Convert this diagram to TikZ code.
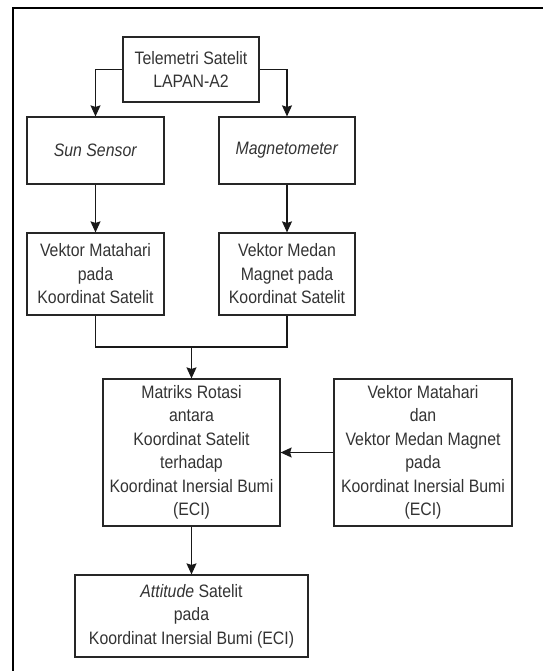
\documentclass[tikz,border=0pt]{standalone}
\usepackage{fontspec}
\setmainfont{Liberation Sans}[FakeStretch=0.88]
\usetikzlibrary{arrows.meta}
\begin{document}
\begin{tikzpicture}[x=1pt, y=-1pt,
    stage/.style ={rectangle, draw=black!85, line width=1.2pt, align=center,
      text=black!80, inner sep=2pt, font=\fontsize{18}{23.5}\selectfont},
    flow/.style ={draw=black!90, line width=1.2pt,
      -{Stealth[length=11pt,width=10pt,inset=1.5pt]}}]
   \useasboundingbox (0,0) rectangle (543,671);
   \draw[line width=2pt] (13,671) -- (13,8) -- (543,8);

   \node[stage, minimum width=136pt, minimum height=65pt] (A) at (191,69.5)
     {Telemetri Satelit\\LAPAN-A2};
   \node[stage, minimum width=137pt, minimum height=67pt] (B) at (95.5,150.5)
     {\textit{Sun Sensor}};
   \node[stage, minimum width=136pt, minimum height=67pt] (C) at (287,150.5)
     {\textit{Magnetometer}};
   \node[stage, minimum width=137pt, minimum height=82pt] (D) at (95.5,274)
     {Vektor Matahari\\pada\\Koordinat Satelit};
   \node[stage, minimum width=136pt, minimum height=82pt] (E) at (287,274)
     {Vektor Medan\\Magnet pada\\Koordinat Satelit};
   \node[stage, minimum width=177pt, minimum height=147pt] (F) at (191.5,452.5)
     {Matriks Rotasi\\antara\\Koordinat Satelit\\terhadap\\Koordinat Inersial Bumi\\(ECI)};
   \node[stage, minimum width=178pt, minimum height=147pt] (G) at (423,452.5)
     {Vektor Matahari\\dan\\Vektor Medan Magnet\\pada\\Koordinat Inersial Bumi\\(ECI)};
   \node[stage, minimum width=233pt, minimum height=82pt] (H) at (191.5,616)
     {\textit{Attitude} Satelit\\pada\\Koordinat Inersial Bumi (ECI)};
   \coordinate (M) at (191.5,347);

   \draw[flow] (A.west) -| (B.north);
   \draw[flow] (A.east) -| (C.north);
   \draw[flow] (B) to (D);
   \draw[flow] (C) to (E);
   \draw[draw=black!90, line width=1.2pt] (D.south) |- (M) -| (E.south);
   \draw[flow] (M) to (F);
   \draw[flow] (G) to (F);
   \draw[flow] (F) to (H);
 \end{tikzpicture}
\end{document}
